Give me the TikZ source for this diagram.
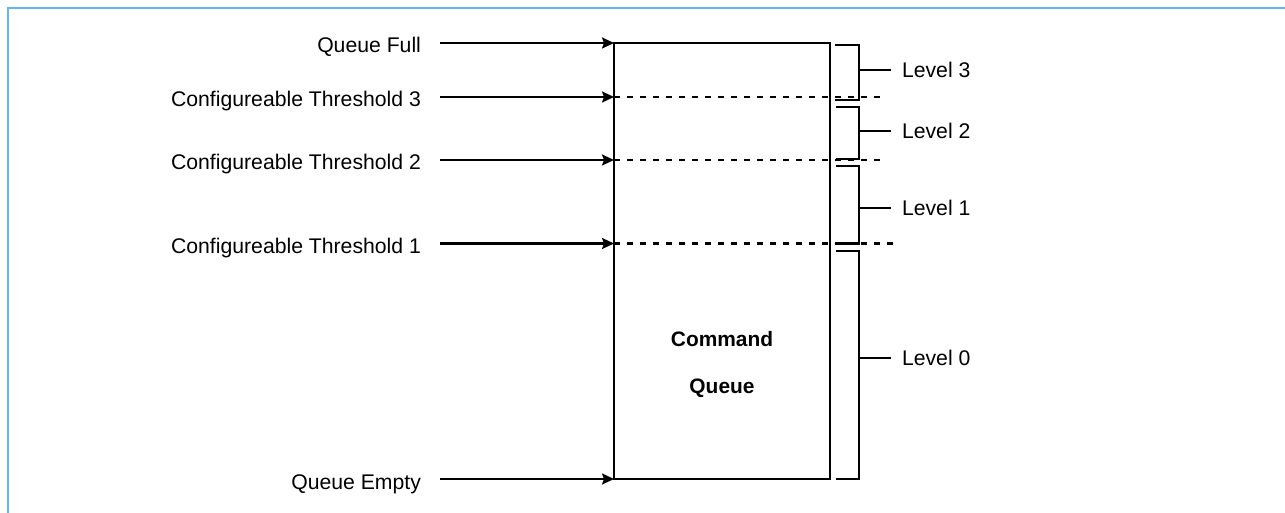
\documentclass[tikz,border=0pt]{standalone}
\usepackage{fontspec}
\setmainfont{Liberation Sans}
\usepackage{tikz}
\usetikzlibrary{arrows.meta, positioning, calc}
\usepackage{xcolor}
\definecolor{frameblue}{RGB}{100,182,246}

\begin{document}
\begin{tikzpicture}[x=1pt, y=-1pt, line width=2.1pt, font=\fontsize{21.2}{24}\selectfont,
  sig/.style={anchor=base east, inner xsep=18pt, inner ysep=0pt},
  lvl/.style={anchor=west, inner xsep=10pt, inner ysep=0pt},
  thr/.style={dash pattern=on 6pt off 7pt},
  arr/.style={-{Stealth[length=12pt, width=11pt, inset=2pt]}},
  brk/.style={line width=2.2pt}]
  \useasboundingbox (0,0) rectangle (1285,513);
  \draw[frameblue, line width=2.8pt] (8,513) -- (8,8) -- (1285,8);

  \node[draw, line width=2.2pt, minimum width=216, minimum height=436.3, inner sep=0pt] (queue) at (722,260.85) {};
  \node[font=\fontsize{20.9}{47.7}\selectfont\bfseries, align=center, anchor=north, inner sep=0pt] (qname) at (722,330) {Command\\Queue};

  % points on the queue edge
  \coordinate (qf) at (614,43);
  \coordinate (t3) at (614,97);
  \coordinate (t2) at (614,160);
  \coordinate (t1) at (614,243.5);
  \coordinate (qe) at (614,479);

  \node[sig] (full) at (440,53) {Queue Full};
  \node[sig] (thr3) at (440,107) {Configureable Threshold 3};
  \node[sig] (thr2) at (440,170) {Configureable Threshold 2};
  \node[sig] (thr1) at (440,254) {Configureable Threshold 1};
  \node[sig] (empty) at (440,489) {Queue Empty};
  \draw[arr] (full.east |- qf) -- (qf);
  \draw[arr] (thr3.east |- t3) -- (t3);
  \draw[arr] (thr2.east |- t2) -- (t2);
  \draw[arr] (thr1.east |- t1) -- (t1);
  \draw[arr] (empty.east |- qe) -- (qe);

  \draw[thr] (t3) -- ++(271,0);
  \draw[thr] (t2) -- ++(271,0);
  \draw[thr] (t1) -- ++(283,0);

  % level brackets
  \draw[brk] (835,45.3) -- (859,45.3) -- (859,100) -- (835,100);
  \draw[brk] (836,106.7) -- (859,106.7) -- (859,159.3) -- (836,159.3);
  \draw[brk] (836,166) -- (859,166) -- (859,243.5) -- (836,243.5);
  \draw[brk] (836,251) -- (859,251) -- (859,479) -- (836,479);
  \coordinate (b3) at (859,70);
  \coordinate (b2) at (859,130.7);
  \coordinate (b1) at (859,207.7);
  \coordinate (b0) at (859,358.3);

  \node[lvl] (lvl3) at (891,70) {Level 3};
  \node[lvl] (lvl2) at (891,130.7) {Level 2};
  \node[lvl] (lvl1) at (891,207.7) {Level 1};
  \node[lvl] (lvl0) at (891,358.3) {Level 0};
  \draw[brk] (b3) -- (lvl3);
  \draw[brk] (b2) -- (lvl2);
  \draw[brk] (b1) -- (lvl1);
  \draw[brk] (b0) -- (lvl0);
\end{tikzpicture}
\end{document}
